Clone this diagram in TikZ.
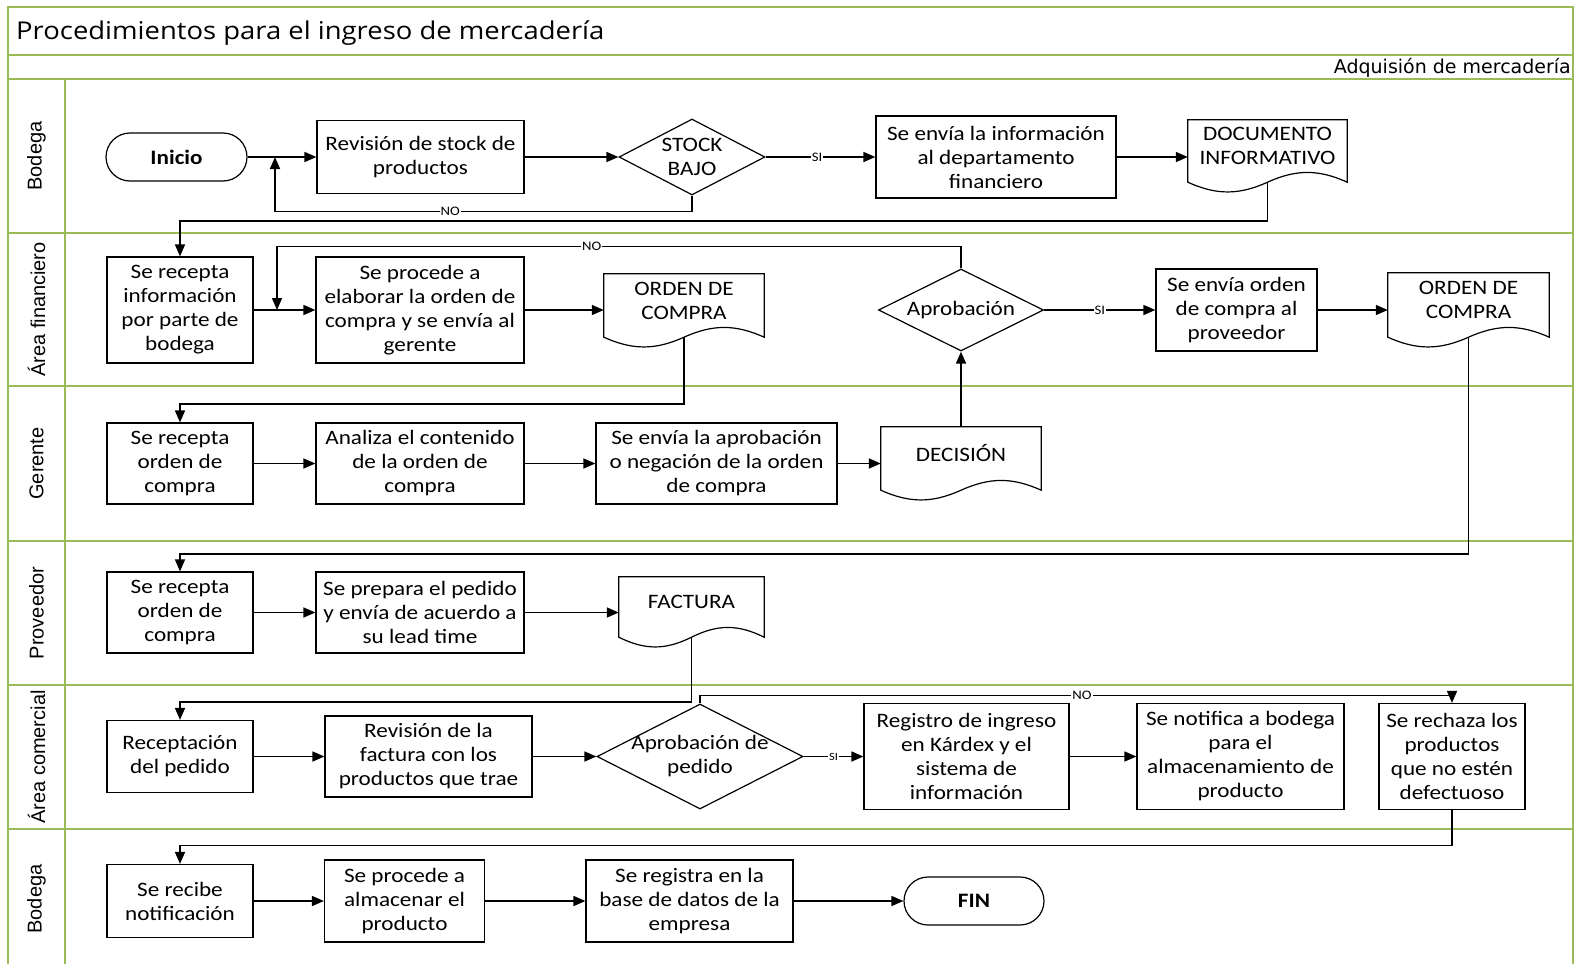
\documentclass[tikz,border=0pt]{standalone}
\usepackage{fontspec}
\setmainfont{Carlito}[FakeStretch=1.13]
\newfontfamily\titlefont{Open Sans}[FakeStretch=1.12]
\newfontfamily\hdrfont{DejaVu Sans}
\newfontfamily\lanefont{Liberation Sans}
\usetikzlibrary{shapes.geometric,arrows.meta,calc}

\definecolor{lanegreen}{RGB}{155,187,89}

\begin{document}
\begin{tikzpicture}[x=1pt,y=-1pt,
  lane/.style={draw=lanegreen, line width=1.8pt},
  box/.style={draw, line width=1.2pt, fill=white, rectangle, inner sep=1pt, align=center,
    font=\fontsize{20.5}{24}\selectfont},
  term/.style={box, rounded corners=24pt, font=\fontsize{20.5}{24}\selectfont\bfseries},
  dec/.style={draw, line width=1.2pt, fill=white, diamond, inner sep=0pt},
  dtext/.style={align=center, inner sep=0pt, font=\fontsize{20.5}{24}\selectfont},
  doc/.style={rectangle, inner sep=0pt, align=center, font=\fontsize{20.5}{24}\selectfont},
  docline/.style={line width=1.2pt},
  flow/.style={line width=1.6pt, -{Triangle[length=12pt,width=10pt]}},
  lbl/.style={fill=white, inner sep=1pt, font=\fontsize{13}{13}\selectfont},
  lanelbl/.style={rotate=90, inner sep=0pt, font=\lanefont\fontsize{20}{22}\selectfont},
]
\useasboundingbox (0,0) rectangle (1576,969);

% swimlane frame
\draw[lane] (8,964) -- (8,7) -- (1573,7) -- (1573,964);
\draw[lane] (8,55) -- (1573,55);
\draw[lane] (8,79) -- (1573,79);
\foreach \yy in {233,386,541,685,829} \draw[lane] (8,\yy) -- (1573,\yy);
\draw[lane] (65,79) -- (65,964);

% headings
\node[anchor=west, inner sep=0pt, font=\titlefont\fontsize{24.5}{28}\selectfont] (title) at (16,33)
  {Procedimientos para el ingreso de mercadería};
\node[anchor=east, inner sep=0pt, font=\hdrfont\fontsize{19}{21}\selectfont] (subhdr) at (1571,67.5)
  {Adquisión de mercadería};

% lane names
\node[lanelbl] (lane1) at (36.5,156) {Bodega};
\node[lanelbl] (lane2) at (36.5,309.5) {Área financiero};
\node[lanelbl] (lane3) at (36.5,463.5) {Gerente};
\node[lanelbl] (lane4) at (36.5,613) {Proveedor};
\node[lanelbl] (lane5) at (36.5,757) {Área comercial};
\node[lanelbl] (lane6) at (36.5,899) {Bodega};

% Bodega
\node[term, minimum width=141, minimum height=48] (inicio) at (176.5,157) {Inicio};
\node[box, minimum width=207, minimum height=73] (revstock) at (420.5,157) {Revisión de stock de\\productos};
\node[dec, minimum width=146, minimum height=76] (stock) at (692,157) {};
\node[dtext] (stockt) at (stock) {STOCK\\BAJO};
\node[box, minimum width=240, minimum height=82] (envinfo) at (996,157) {Se envía la información\\al departamento\\financiero};
\node[doc, minimum width=159, minimum height=52] (docinfo) at (1267.5,146) {DOCUMENTO\\INFORMATIVO};

% Area financiero
\node[box, minimum width=146, minimum height=106] (recinfo) at (180,310) {Se recepta\\información\\por parte de\\bodega};
\node[box, minimum width=208, minimum height=106] (elab) at (420,310) {Se procede a\\elaborar la orden de\\compra y se envía al\\gerente};
\node[doc, minimum width=160, minimum height=53] (ord1) at (684,300.5) {ORDEN DE\\COMPRA};
\node[dec, minimum width=165, minimum height=82] (aprob) at (961,310) {};
\node[dtext] (aprobt) at (aprob) {Aprobación};
\node[box, minimum width=161, minimum height=82] (envord) at (1236.5,310) {Se envía orden\\de compra al\\proveedor};
\node[doc, minimum width=161, minimum height=54] (ord2) at (1468.5,300) {ORDEN DE\\COMPRA};

% Gerente
\node[box, minimum width=146, minimum height=81] (recg) at (180,463.5) {Se recepta\\orden de\\compra};
\node[box, minimum width=208, minimum height=81] (analiza) at (420,463.5) {Analiza el contenido\\de la orden de\\compra};
\node[box, minimum width=241, minimum height=81] (envap) at (716.5,463.5) {Se envía la aprobación\\o negación de la orden\\de compra};
\node[doc, minimum width=160, minimum height=53] (decision) at (961,453.5) {DECISIÓN};

% Proveedor
\node[box, minimum width=146, minimum height=81] (recoc) at (180,612.5) {Se recepta\\orden de\\compra};
\node[box, minimum width=208, minimum height=81] (prepara) at (420,612.5) {Se prepara el pedido\\y envía de acuerdo a\\su lead time};
\node[doc, minimum width=145, minimum height=50] (factura) at (691.5,602) {FACTURA};

% Area comercial
\node[box, minimum width=146, minimum height=72] (recped) at (180,756.5) {Receptación\\del pedido};
\node[box, minimum width=207, minimum height=81] (revfac) at (428.5,756.5) {Revisión de la\\factura con los\\productos que trae};
\node[dec, minimum width=206, minimum height=105] (aprped) at (700,756.5) {};
\node[dtext] (aprpedt) at (aprped) {Aprobación de\\pedido};
\node[box, minimum width=205, minimum height=106] (registro) at (966.5,756.5) {Registro de ingreso\\en Kárdex y el\\sistema de\\información};
\node[box, minimum width=207, minimum height=106] (notifica) at (1240.5,756.5) {Se notifica a bodega\\para el\\almacenamiento de\\producto};
\node[box, minimum width=146, minimum height=106] (rechaza) at (1452,756.5) {Se rechaza los\\productos\\que no estén\\defectuoso};

% Bodega (cierre)
\node[box, minimum width=146, minimum height=73] (recnot) at (180,901) {Se recibe\\notificación};
\node[box, minimum width=160, minimum height=82] (almac) at (404.5,901) {Se procede a\\almacenar el\\producto};
\node[box, minimum width=207, minimum height=82] (registra) at (689.5,901) {Se registra en la\\base de datos de la\\empresa};
\node[term, minimum width=140, minimum height=48] (fin) at (974,901) {FIN};

% document outlines with wavy bottom edge
\foreach \n in {docinfo,ord1,ord2,decision,factura}{
  \draw[docline] ($(\n.south west)+(0,10)$) -- (\n.north west) -- (\n.north east) -- ($(\n.south east)+(0,10)$)
    .. controls ($(\n.south west)!0.82!(\n.south east)+(0,-3)$) and ($(\n.south west)!0.68!(\n.south east)+(0,-3)$)
    .. ($(\n.south west)!0.5!(\n.south east)+(0,10)$)
    .. controls ($(\n.south west)!0.32!(\n.south east)+(0,23)$) and ($(\n.south west)!0.18!(\n.south east)+(0,23)$)
    .. ($(\n.south west)+(0,10)$) -- cycle;
}

% junctions on flow lines
\coordinate (j1) at (275,157);
\coordinate (j2) at (277,310);

% connectors: Bodega
\draw[flow] (inicio.east) -- (revstock.west);
\draw[flow] (revstock.east) -- (stock.west);
\draw[flow] (stock.east) -- (envinfo.west) node[lbl, pos=0.47] {SI};
\draw[flow] (envinfo.east) -- (envinfo.east -| docinfo.west);
\draw[flow] (stock.south) -- ++(0,16) -| (j1) node[lbl, pos=0.29] {NO};
\draw[flow] ($(docinfo.south)+(0,10)$) -- ++(0,39) -| (recinfo.north);

% connectors: Area financiero
\draw[flow] (recinfo.east) -- (elab.west);
\draw[flow] (elab.east) -- (elab.east -| ord1.west);
\draw[flow] (aprob.east) -- (envord.west) node[lbl, pos=0.5] {SI};
\draw[flow] (envord.east) -- (envord.east -| ord2.west);
\draw[flow] (aprob.north) -- ++(0,-22) -| (j2) node[lbl, pos=0.27] {NO};
\draw[flow] ($(ord1.south)+(0,10)$) -- ++(0,67) -| (recg.north);
\draw[flow] ($(ord2.south)+(0,10)$) -- ++(0,217) -| (recoc.north);

% connectors: Gerente
\draw[flow] (recg.east) -- (analiza.west);
\draw[flow] (analiza.east) -- (envap.west);
\draw[flow] (envap.east) -- (envap.east -| decision.west);
\draw[flow] (decision.north) -- (aprob.south);

% connectors: Proveedor
\draw[flow] (recoc.east) -- (prepara.west);
\draw[flow] (prepara.east) -- (prepara.east -| factura.west);
\draw[flow] ($(factura.south)+(0,10)$) -- ++(0,65) -| (recped.north);

% connectors: Area comercial
\draw[flow] (recped.east) -- (revfac.west);
\draw[flow] (revfac.east) -- (aprped.west);
\draw[flow] (aprped.east) -- (registro.west) node[lbl, pos=0.5, font=\fontsize{11}{11}\selectfont] {SI};
\draw[flow] (registro.east) -- (notifica.west);
\draw[flow] (aprped.north) -- ++(0,-8) -| (rechaza.north) node[lbl, pos=0.254] {NO};
\draw[flow] (rechaza.south) -- ++(0,35.5) -| (recnot.north);

% connectors: Bodega (cierre)
\draw[flow] (recnot.east) -- (almac.west);
\draw[flow] (almac.east) -- (registra.west);
\draw[flow] (registra.east) -- (fin.west);
\end{tikzpicture}
\end{document}
